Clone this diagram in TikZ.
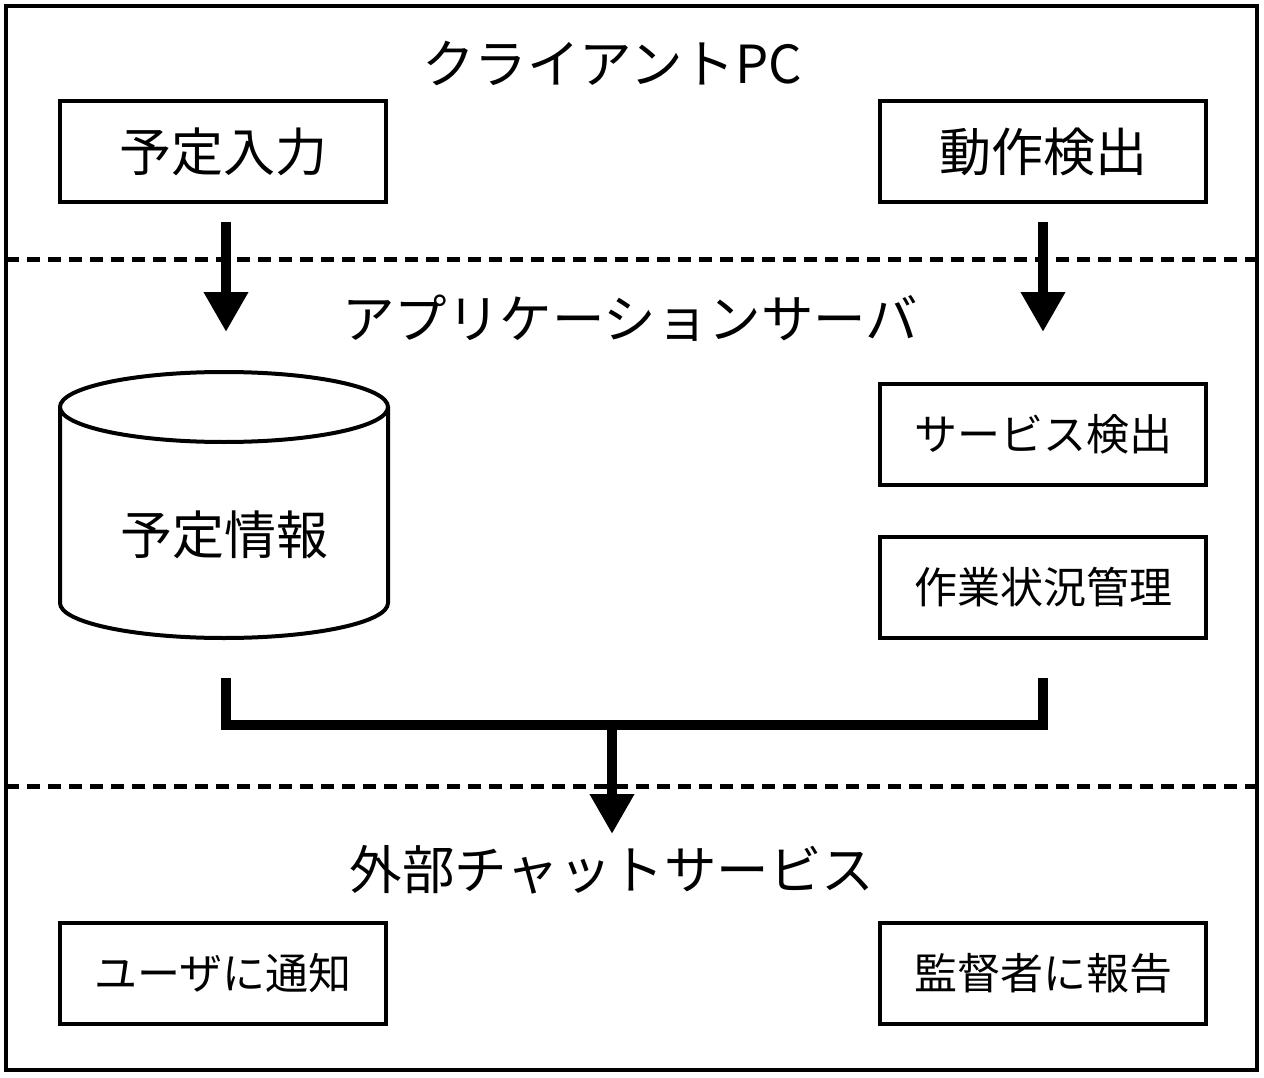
\documentclass[tikz,border=0pt]{standalone}
\usepackage{fontspec}
\setmainfont{Noto Sans CJK JP}
\usetikzlibrary{arrows.meta}
\begin{document}
\begin{tikzpicture}[x=1pt,y=-1pt,
  box/.style={draw,line width=4pt,minimum width=326pt,minimum height=101pt,inner sep=0pt},
  bigtxt/.style={font=\fontsize{52}{62}\selectfont},
  smalltxt/.style={font=\fontsize{43}{52}\selectfont},
  layer/.style={inner sep=0pt,font=\fontsize{52.5}{62}\selectfont},
  sep/.style={line width=5pt,dash pattern=on 13pt off 8pt},
  flow/.style={line width=10pt,-{Triangle[width=42pt,length=40pt]}},
  joint/.style={line width=10pt}]
\useasboundingbox (0,0) rectangle (1264,1078);
\fill[white] (0,0) rectangle (1264,1078);
\draw[line width=4pt] (6,6) rectangle (1257,1070);
% separators
\coordinate (s1l) at (6,260); \coordinate (s1r) at (1257,260);
\coordinate (s2l) at (6,786); \coordinate (s2r) at (1257,786);
\draw[sep] (s1l) -- (s1r);
\draw[sep] (s2l) -- (s2r);
% layer titles
\node[layer] (client) at (612,63) {クライアントPC};
\node[layer] (app) at (630,318) {アプリケーションサーバ};
\node[layer] (ext) at (612,870) {外部チャットサービス};
% boxes
\node[box,bigtxt] (input) at (223,152) {予定入力};
\node[box,bigtxt] (detect) at (1043,152) {動作検出};
\node[box,smalltxt] (svc) at (1043,434) {サービス検出};
\node[box,smalltxt] (work) at (1043,587) {作業状況管理};
\node[box,smalltxt] (notify) at (223,973) {ユーザに通知};
\node[box,smalltxt] (report) at (1043,973) {監督者に報告};
% cylinder
\draw[line width=4pt] (60,407) -- (60,603) arc[start angle=180,end angle=0,x radius=164,y radius=35] -- (388,407);
\draw[line width=4pt,fill=white] (224,407) ellipse[x radius=164,y radius=35];
\node[inner sep=0pt,bigtxt] (plan) at (224,535) {予定情報};
% arrows client -> app
\coordinate (a1s) at (226,222); \coordinate (a1e) at (226,332);
\coordinate (a2s) at (1043,222); \coordinate (a2e) at (1043,332);
\draw[flow] (a1s) -- (a1e);
\draw[flow] (a2s) -- (a2e);
% merge
\coordinate (m1) at (226,678); \coordinate (m2) at (1043,678);
\coordinate (mj) at (612,725); \coordinate (me) at (612,834);
\draw[joint] (m1) |- (mj);
\draw[joint] (m2) |- (mj);
\draw[flow] ([yshift=-5pt]mj) -- (me);
\end{tikzpicture}
\end{document}
